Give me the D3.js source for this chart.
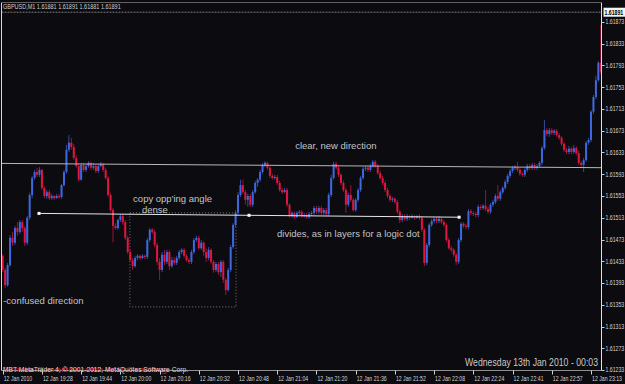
<!DOCTYPE html>
<html>
<head>
<meta charset="utf-8">
<script src="https://cdn.jsdelivr.net/npm/d3@7"></script>
<style>
body { margin: 0; background: #0b0b10; overflow: hidden; }
text { font-family: "Liberation Sans", Arial, sans-serif; }
</style>
</head>
<body>
<svg id="chart" width="625" height="384"></svg>
<script>
// GBPUSD M1, 12 Jan 2010 19:12 -> 23:16
// prices written as the digits after "1.6", e.g. 1446 = 1.61446
var base = 1.6;

var opens = [1443,1417,1389,1426,1476,1467,1494,1487,1505,1494,
    1467,1513,1555,1586,1597,1592,1601,1568,1553,1560,
    1549,1553,1549,1553,1551,1573,1597,1638,1651,1643,
    1623,1608,1583,1610,1601,1608,1614,1605,1608,1599,
    1608,1612,1601,1586,1555,1527,1498,1494,1509,1516,
    1505,1476,1450,1435,1424,1439,1443,1439,1443,1441,
    1472,1491,1487,1463,1432,1417,1445,1432,1450,1424,
    1435,1430,1439,1450,1454,1443,1435,1432,1450,1472,
    1476,1457,1467,1450,1439,1454,1432,1417,1428,1413,
    1432,1399,1380,1417,1459,1500,1522,1555,1573,1560,
    1546,1553,1537,1560,1577,1583,1597,1610,1614,1605,
    1590,1586,1588,1577,1564,1560,1564,1537,1516,1522,
    1514,1522,1524,1516,1518,1514,1520,1522,1531,1524,
    1531,1522,1527,1520,1555,1586,1612,1605,1592,1577,
    1564,1537,1555,1546,1527,1546,1564,1586,1603,1605,
    1601,1608,1616,1608,1595,1586,1577,1564,1553,1546,
    1548,1542,1524,1509,1516,1511,1516,1513,1516,1513,
    1516,1513,1491,1430,1463,1500,1507,1511,1507,1511,
    1505,1500,1472,1457,1454,1445,1432,1472,1502,1498,
    1496,1525,1522,1520,1518,1533,1531,1535,1529,1524,
    1537,1542,1553,1548,1560,1568,1579,1590,1599,1605,
    1606,1601,1594,1592,1601,1608,1605,1610,1605,1608,
    1614,1641,1674,1667,1674,1669,1673,1665,1660,1649,
    1638,1634,1640,1634,1641,1632,1614,1610,1619,1651,
    1656,1708,1735,1766,1798];

var highs = [1446,1421,1430,1481,1487,1498,1505,1509,1509,1498,
    1516,1559,1590,1601,1605,1606,1603,1571,1564,1564,
    1557,1555,1557,1557,1575,1601,1647,1665,1660,1649,
    1628,1612,1614,1614,1612,1617,1616,1614,1612,1612,
    1616,1614,1605,1590,1559,1531,1503,1511,1520,1520,
    1509,1480,1454,1439,1443,1446,1445,1446,1445,1476,
    1494,1494,1491,1467,1439,1450,1454,1454,1454,1441,
    1441,1443,1454,1457,1457,1446,1439,1454,1476,1480,
    1480,1472,1470,1457,1459,1457,1435,1432,1432,1435,
    1435,1402,1421,1463,1503,1527,1560,1583,1583,1564,
    1557,1557,1564,1581,1586,1601,1614,1617,1616,1608,
    1594,1592,1592,1581,1568,1568,1568,1540,1525,1525,
    1525,1527,1527,1522,1522,1524,1525,1535,1535,1535,
    1535,1531,1531,1559,1592,1616,1616,1608,1595,1581,
    1568,1559,1573,1549,1549,1568,1590,1606,1608,1608,
    1612,1619,1619,1612,1599,1590,1581,1568,1557,1551,
    1551,1546,1527,1520,1520,1520,1518,1520,1518,1518,
    1520,1516,1494,1467,1503,1511,1514,1514,1516,1514,
    1509,1503,1476,1461,1457,1448,1476,1505,1505,1502,
    1529,1529,1525,1524,1537,1537,1538,1564,1533,1540,
    1546,1557,1573,1564,1571,1583,1594,1603,1608,1610,
    1616,1605,1597,1605,1612,1612,1614,1614,1612,1617,
    1645,1693,1678,1678,1678,1676,1676,1669,1663,1652,
    1641,1645,1643,1647,1645,1636,1617,1623,1654,1660,
    1711,1739,1774,1801,1868];

var lows = [1413,1384,1386,1423,1461,1463,1480,1483,1487,1461,
    1463,1509,1549,1583,1588,1588,1564,1549,1548,1546,
    1546,1546,1548,1548,1548,1570,1594,1634,1638,1619,
    1605,1579,1581,1597,1597,1605,1601,1601,1595,1595,
    1606,1597,1583,1551,1524,1468,1491,1491,1505,1500,
    1472,1446,1432,1417,1421,1435,1435,1437,1437,1437,
    1468,1483,1459,1426,1399,1413,1426,1428,1417,1421,
    1426,1426,1435,1446,1439,1432,1428,1428,1446,1468,
    1454,1454,1443,1432,1435,1428,1412,1413,1408,1404,
    1393,1371,1377,1413,1456,1496,1518,1551,1557,1537,
    1533,1533,1533,1557,1570,1579,1594,1606,1601,1586,
    1583,1583,1573,1560,1557,1559,1533,1513,1513,1511,
    1513,1518,1513,1513,1511,1511,1516,1518,1520,1520,
    1518,1518,1516,1516,1551,1583,1601,1588,1573,1560,
    1522,1533,1542,1524,1524,1542,1560,1583,1599,1597,
    1597,1605,1605,1592,1583,1573,1560,1549,1542,1542,
    1538,1520,1503,1505,1507,1507,1509,1511,1509,1511,
    1509,1487,1424,1426,1459,1496,1503,1503,1503,1502,
    1496,1468,1454,1450,1441,1426,1428,1468,1494,1492,
    1492,1518,1516,1514,1514,1527,1527,1525,1520,1520,
    1533,1538,1544,1544,1557,1564,1575,1586,1595,1601,
    1597,1590,1588,1588,1597,1601,1601,1601,1601,1605,
    1610,1638,1663,1662,1665,1665,1662,1656,1645,1634,
    1630,1630,1630,1630,1628,1610,1606,1597,1616,1647,
    1652,1704,1731,1763,1777];

var closes = [1417,1389,1426,1476,1467,1494,1487,1505,1494,1467,
    1513,1555,1586,1597,1592,1601,1568,1553,1560,1549,
    1553,1549,1553,1551,1573,1597,1638,1651,1643,1623,
    1608,1583,1610,1601,1608,1614,1605,1608,1599,1608,
    1612,1601,1586,1555,1527,1498,1494,1509,1516,1505,
    1476,1450,1435,1424,1439,1443,1439,1443,1441,1472,
    1491,1487,1463,1432,1417,1445,1432,1450,1424,1435,
    1430,1439,1450,1454,1443,1435,1432,1450,1472,1476,
    1457,1467,1450,1439,1454,1432,1417,1428,1413,1432,
    1399,1380,1417,1459,1500,1522,1555,1573,1560,1546,
    1553,1537,1560,1577,1583,1597,1610,1614,1605,1590,
    1586,1588,1577,1564,1560,1564,1537,1516,1522,1514,
    1522,1524,1516,1518,1514,1520,1522,1531,1524,1531,
    1522,1527,1520,1555,1586,1612,1605,1592,1577,1564,
    1537,1555,1546,1527,1546,1564,1586,1603,1605,1601,
    1608,1616,1608,1595,1586,1577,1564,1553,1546,1548,
    1542,1524,1509,1516,1511,1516,1513,1516,1513,1516,
    1513,1491,1430,1463,1500,1507,1511,1507,1511,1505,
    1500,1472,1457,1454,1445,1432,1472,1502,1498,1496,
    1525,1522,1520,1518,1533,1531,1535,1529,1524,1537,
    1542,1553,1548,1560,1568,1579,1590,1599,1605,1606,
    1601,1594,1592,1601,1608,1605,1610,1605,1608,1614,
    1641,1674,1667,1674,1669,1673,1665,1660,1649,1638,
    1634,1640,1634,1641,1632,1614,1610,1619,1651,1656,
    1708,1735,1766,1798,1781];

var timeLabels = ["12 Jan 2010","12 Jan 19:28","12 Jan 19:44","12 Jan 20:00","12 Jan 20:16",
    "12 Jan 20:32","12 Jan 20:48","12 Jan 21:04","12 Jan 21:20","12 Jan 21:36","12 Jan 21:52",
    "12 Jan 22:08","12 Jan 22:24","12 Jan 22:41","12 Jan 22:57","12 Jan 23:13"];
var timeLabelBars = [0,16,32,48,64,80,96,112,128,144,160,176,192,208,224,240];

var priceTicks = [1.61233,1.61273,1.61313,1.61353,1.61393,1.61433,1.61473,1.61513,1.61553,
    1.61593,1.61633,1.61673,1.61713,1.61753,1.61793,1.61833,1.61873];

var bid = 1.61891;
var titleText = "GBPUSD,M1  1.61881 1.61891 1.61881 1.61891";

// drawn objects, [bar, price]
var resistLine = [[-2, 1.61613], [246, 1.61605]];
var layerLine = [[14.8, 1.61521], [186.2, 1.61514]];
var denseBox = [[51.9, 1.61522], [95.2, 1.61349]];

var notes = [
    {bar: 119.3, price: 1.61645, text: "clear, new direction"},
    {bar: 53.2, price: 1.61549, text: "copy opp'ing angle"},
    {bar: 56.8, price: 1.61527, text: "dense"},
    {bar: 111.9, price: 1.61483, text: "divides, as in layers for a logic dot"},
    {bar: 0.2, price: 1.61360, text: "-confused direction"}
];

var upColor = "#3f68e0", downColor = "#e0163e";

var svg = d3.select("#chart");
var x = d3.scaleLinear().domain([0, 240]).range([2.7, 591]);
var y = d3.scaleLinear().domain([1.61233, 1.61873]).range([370, 22]);
function pr(v) { return base + v / 1e5; }

var pLeft = 1.5, pRight = 601.5, pTop = 2.5, pBottom = 370.5;

svg.append("rect").attr("width", 625).attr("height", 384).attr("fill", "#0b0b10");

svg.append("defs").append("clipPath").attr("id", "clip")
    .append("rect").attr("x", pLeft + 0.5).attr("y", pTop)
    .attr("width", pRight - pLeft - 1).attr("height", pBottom - pTop);

var plot = svg.append("g").attr("clip-path", "url(#clip)");

// bid line
plot.append("line")
    .attr("x1", pLeft).attr("x2", pRight)
    .attr("y1", y(bid)).attr("y2", y(bid))
    .attr("stroke", "#7a7a7a").attr("stroke-dasharray", "2,1");

// dotted box
plot.append("rect")
    .attr("x", x(denseBox[0][0])).attr("y", y(denseBox[0][1]))
    .attr("width", x(denseBox[1][0]) - x(denseBox[0][0]))
    .attr("height", y(denseBox[1][1]) - y(denseBox[0][1]))
    .attr("fill", "none").attr("stroke", "#7c7c7c").attr("stroke-dasharray", "1,2");

// candles
var bars = d3.range(closes.length);
function barColor(i) { return closes[i] >= opens[i] ? upColor : downColor; }

plot.selectAll("line.wick").data(bars).enter().append("line")
    .attr("class", "wick")
    .attr("x1", function (i) { return x(i); })
    .attr("x2", function (i) { return x(i); })
    .attr("y1", function (i) { return y(pr(highs[i])); })
    .attr("y2", function (i) { return y(pr(lows[i])); })
    .attr("stroke", barColor)
    .attr("stroke-opacity", 0.7)
    .attr("stroke-width", 1);

plot.selectAll("rect.body").data(bars).enter().append("rect")
    .attr("class", "body")
    .attr("x", function (i) { return x(i) - 1; })
    .attr("width", 2)
    .attr("y", function (i) { return y(pr(Math.max(opens[i], closes[i]))); })
    .attr("height", function (i) { return Math.max(1, Math.abs(y(pr(opens[i])) - y(pr(closes[i])))); })
    .attr("fill", barColor);

// trend lines
plot.append("line")
    .attr("x1", x(resistLine[0][0])).attr("y1", y(resistLine[0][1]))
    .attr("x2", x(resistLine[1][0])).attr("y2", y(resistLine[1][1]))
    .attr("stroke", "#b8b8b8").attr("stroke-width", 1);

plot.append("line")
    .attr("x1", x(layerLine[0][0])).attr("y1", y(layerLine[0][1]))
    .attr("x2", x(layerLine[1][0])).attr("y2", y(layerLine[1][1]))
    .attr("stroke", "#e6e6e6").attr("stroke-width", 1);

var mid = [(layerLine[0][0] + layerLine[1][0]) / 2, (layerLine[0][1] + layerLine[1][1]) / 2];
plot.selectAll("rect.dot").data([layerLine[0], mid, layerLine[1]]).enter().append("rect")
    .attr("class", "dot")
    .attr("x", function (d) { return x(d[0]) - 1.5; })
    .attr("y", function (d) { return y(d[1]) - 1.5; })
    .attr("width", 3).attr("height", 3)
    .attr("fill", "#ffffff");

// notes
plot.selectAll("text.note").data(notes).enter().append("text")
    .attr("class", "note")
    .attr("x", function (d) { return x(d.bar); })
    .attr("y", function (d) { return y(d.price); })
    .attr("dy", "0.35em")
    .attr("font-size", "9.5px")
    .attr("fill", "#c4c4c4")
    .text(function (d) { return d.text; });

// frame
svg.append("line").attr("x1", pLeft).attr("x2", pLeft).attr("y1", pTop).attr("y2", pBottom)
    .attr("stroke", "#d8d8d8");
svg.append("line").attr("x1", pRight).attr("x2", pRight).attr("y1", pTop).attr("y2", pBottom)
    .attr("stroke", "#e0e0e0");
svg.append("line").attr("x1", pLeft).attr("x2", pRight).attr("y1", pTop).attr("y2", pTop)
    .attr("stroke", "#606060");
svg.append("line").attr("x1", pLeft).attr("x2", pRight).attr("y1", pBottom).attr("y2", pBottom)
    .attr("stroke", "#909090");

// small axis text: narrow font, stretched upward
function smallText(sel, px, py) {
    return sel.attr("transform", function (d, i) {
            return "translate(" + px(d, i) + "," + py(d, i) + ") scale(1,1.35)";
        })
        .attr("font-size", "5.2px");
}

// price axis
var yAxis = svg.append("g");
yAxis.selectAll("line").data(priceTicks).enter().append("line")
    .attr("x1", pRight).attr("x2", pRight + 3)
    .attr("y1", function (d) { return Math.round(y(d)) + 0.5; })
    .attr("y2", function (d) { return Math.round(y(d)) + 0.5; })
    .attr("stroke", "#d0d0d0");
smallText(yAxis.selectAll("text").data(priceTicks).enter().append("text"),
        function () { return pRight + 4; },
        function (d) { return y(d) + 2.4; })
    .attr("fill", "#d4d4d4")
    .text(function (d) { return d3.format(".5f")(d); });

// bid label
svg.append("rect").attr("x", pRight + 2).attr("y", y(bid) - 4.5).attr("width", 21.5).attr("height", 9)
    .attr("fill", "#f4f4f4");
smallText(svg.append("text").datum(bid),
        function () { return pRight + 3; },
        function (d) { return y(d) + 2.4; })
    .attr("font-weight", "bold")
    .attr("fill", "#000").text(d3.format(".5f")(bid));

// time axis
var xAxis = svg.append("g");
xAxis.selectAll("line").data(timeLabelBars).enter().append("line")
    .attr("x1", function (d) { return Math.round(x(d)) + 0.5; })
    .attr("x2", function (d) { return Math.round(x(d)) + 0.5; })
    .attr("y1", pBottom).attr("y2", pBottom + 4)
    .attr("stroke", "#d0d0d0");
smallText(xAxis.selectAll("text").data(timeLabelBars).enter().append("text"),
        function (d) { return x(d) + 1; },
        function () { return 381; })
    .attr("fill", "#d4d4d4")
    .text(function (d, i) { return timeLabels[i]; });

// header and footer text
smallText(svg.append("text"), function () { return 3; }, function () { return 9; })
    .attr("font-size", "5.5px")
    .attr("fill", "#cfcfcf").text(titleText);

svg.append("text").attr("x", 3).attr("y", 372).attr("font-size", "8px")
    .attr("textLength", 164).attr("lengthAdjust", "spacingAndGlyphs")
    .attr("fill", "#c8141e").text("Trade Smarter with MB Trading");
svg.append("text").attr("x", 3).attr("y", 372).attr("font-size", "8px")
    .attr("textLength", 185).attr("lengthAdjust", "spacingAndGlyphs")
    .attr("fill", "#d8d8d8").text("MBT MetaTrader 4, \u00a9 2001-2012, MetaQuotes Software Corp.");

svg.append("text").attr("x", 598).attr("y", 366).attr("text-anchor", "end")
    .attr("font-size", "10.5px")
    .attr("textLength", 133).attr("lengthAdjust", "spacingAndGlyphs")
    .attr("fill", "#c8c8c8").text("Wednesday 13th Jan 2010 - 00:03");
</script>
</body>
</html>
